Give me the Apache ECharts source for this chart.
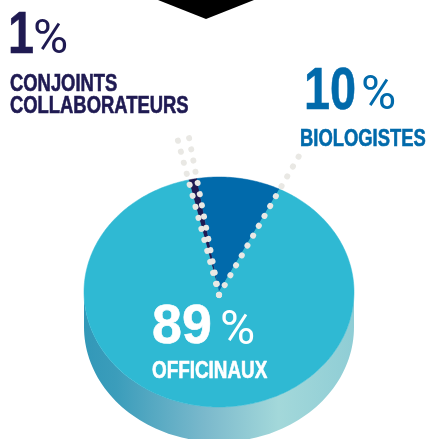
<!DOCTYPE html>
<html>
	<head>
		<meta charset="utf-8">
		<title>Répartition</title>
		<script src="https://cdn.jsdelivr.net/npm/echarts@6/dist/echarts.min.js"></script>
		<style>
			html, body { margin: 0; padding: 0; background: #fff; }
			#box { width: 428px; height: 439px; }
		</style>
	</head>
	<body>
		<div id="box"></div>
		<script>
			var categories = ['CONJOINTS\nCOLLABORATEURS', 'BIOLOGISTES', 'OFFICINAUX']
			var values = [1, 10, 89]
			var sliceColors = ['#1f1a52', '#016aab', '#2fb9d3']

			var mCharts = echarts.init(document.querySelector('#box'))

			var cx = 219, cy = 292, rx = 135, ry = 115, depth = 35
			var startDeg = -13
			var font = '"Liberation Sans", sans-serif'
			var pctFont = 'Roboto, sans-serif'
			var total = values.reduce(function (a, b) { return a + b }, 0)

			// angle part du haut, sens horaire, projeté sur l'ellipse
			function pt(deg, k, dy) {
				var a = deg * Math.PI / 180
				return [cx + rx * k * Math.sin(a), cy + (dy || 0) - ry * k * Math.cos(a)]
			}
			function angleBefore(i) {
				var s = 0
				for (var j = 0; j < i; j++) s += values[j]
				return startDeg + s / total * 360
			}
			function sliceShape(i) {
				var a0 = angleBefore(i), a1 = angleBefore(i + 1)
				var pts = [[cx, cy]]
				for (var d = a0; d < a1; d += 1) pts.push(pt(d, 1))
				pts.push(pt(a1, 1))
				return pts
			}
			function sideShape() {
				var pts = []
				for (var d = 90; d <= 270; d += 2) pts.push(pt(d, 1, depth))
				for (var e = 270; e >= 90; e -= 2) pts.push(pt(e, 1))
				return pts
			}
			// pointillés : un par limite de tranche, prolongés hors du disque
			var dotReach = [1.43, 1.36, 1.32]
			function dotLine(i) {
				var p = pt(angleBefore(i), dotReach[i])
				return {
					type: 'line',
					shape: { x1: cx, y1: cy + 3, x2: p[0], y2: p[1] },
					style: { stroke: '#e9e8e4', lineWidth: 6, lineCap: 'round', lineDash: [0.1, 11.3], fill: null },
					z2: 10
				}
			}

			function txt(text, x, y, size, color, scaleX) {
				return {
					type: 'text', x: x, y: y, scaleX: scaleX, z: 20,
					style: {
						text: text, fill: color, stroke: color, lineWidth: 0.6, align: 'left', verticalAlign: 'middle',
						font: 'bold ' + size + 'px ' + font, lineHeight: 22
					}
				}
			}
			function pct(x, y, color) {
				return {
					type: 'text', x: x, y: y, z: 20,
					style: { text: '%', fill: color, align: 'left', verticalAlign: 'middle', font: '400 48px ' + pctFont }
				}
			}

			var option = {
				animation: false,
				graphic: [
					{ type: 'polygon', z: 20, shape: { points: [[158, 0], [254, 0], [206, 19]] }, style: { fill: '#000' } },
					txt(String(values[0]), 8, 36, 60, '#1f1a52', 0.78),
					pct(33, 41, '#1f1a52'),
					txt(categories[0], 10, 96, 23, '#1f1a52', 0.8),
					txt(String(values[1]), 304, 92, 60, '#016aab', 0.78),
					pct(361, 97, '#016aab'),
					txt(categories[1], 300, 140, 23, '#016aab', 0.8),
					txt(String(values[2]), 152, 328, 56, '#fff', 0.96),
					pct(220, 332, '#fff'),
					txt(categories[2], 152, 372, 23, '#fff', 0.82)
				],
				series: [
					{
						type: 'custom',
						coordinateSystem: 'none',
						silent: true,
						data: [0],
						z: 1,
						renderItem: function () {
							return {
								type: 'polygon',
								shape: { points: sideShape() },
								style: {
									fill: new echarts.graphic.LinearGradient(0, 0, 1, 0, [
										{ offset: 0, color: '#3298b8' },
										{ offset: 0.12, color: '#3b9dbb' },
										{ offset: 0.45, color: '#7bb9cc' },
										{ offset: 0.72, color: '#a3d8da' },
										{ offset: 1, color: '#8fcdd5' }
									])
								}
							}
						}
					},
					{
						type: 'custom',
						coordinateSystem: 'none',
						silent: true,
						data: values,
						z: 2,
						renderItem: function (params) {
							var i = params.dataIndex
							return {
								type: 'group',
								children: [
									{
										type: 'polygon',
										shape: { points: sliceShape(i) },
										style: { fill: sliceColors[i], stroke: sliceColors[i], lineWidth: 0.5 }
									},
									dotLine(i)
								]
							}
						}
					}
				]
			}
			mCharts.setOption(option)
		</script>
	</body>
</html>
